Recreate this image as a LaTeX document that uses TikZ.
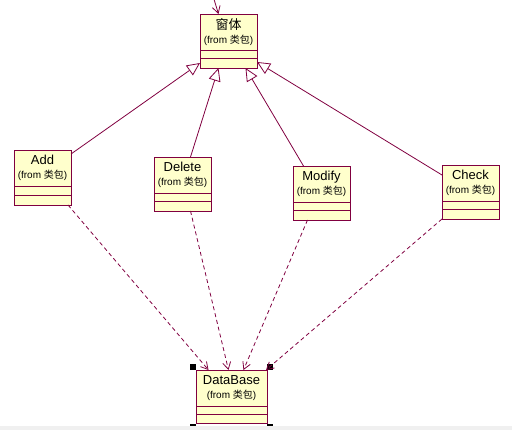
\documentclass[tikz,border=0pt]{standalone}
\usepackage{fontspec}
\setmainfont{Liberation Sans}
\newfontfamily\cjk{Noto Sans CJK SC}
\usetikzlibrary{arrows.meta,positioning}
\definecolor{umlline}{RGB}{128,0,64}
\definecolor{umlfill}{RGB}{255,255,204}
\newcommand{\pkgnote}{{\fontsize{10}{11}\selectfont(from {\cjk 类包})}}
\tikzset{classname/.style={draw=umlline,fill=umlfill,line width=0.9pt,anchor=north west,
  align=center,minimum width=57pt,minimum height=36pt,inner sep=1pt,outer sep=0pt,
  font=\fontsize{13}{14}\selectfont},
  classpart/.style={draw=umlline,fill=umlfill,line width=0.9pt,minimum width=57pt,
  minimum height=#1,inner sep=0pt,outer sep=0pt},
  gen/.style={draw=umlline,line width=0.8pt,-{Triangle[open,length=13pt,width=12pt,fill=white]}},
  dep/.style={draw=umlline,line width=0.8pt,dash pattern=on 4pt off 3pt,
  -{Straight Barb[length=7pt,width=8pt]}},
  handle/.style={fill=black,minimum size=6pt,inner sep=0pt}}

\begin{document}
\begin{tikzpicture}[x=1pt,y=-1pt]
\useasboundingbox (0,0) rectangle (512,430);
% classes
\node[classname] (win) at (200,14) {{\cjk 窗体}\\\pkgnote};
\node[classpart=8pt,below=0pt of win] (winattr) {};
\node[classpart=10pt,below=0pt of winattr] (winops) {};
\node[classname] (add) at (14,150) {Add\\\pkgnote};
\node[classpart=9pt,below=0pt of add] (addattr) {};
\node[classpart=10pt,below=0pt of addattr] (addops) {};
\node[classname] (delete) at (154,157) {Delete\\\pkgnote};
\node[classpart=8pt,below=0pt of delete] (deleteattr) {};
\node[classpart=10pt,below=0pt of deleteattr] (deleteops) {};
\node[classname] (modify) at (293,166) {Modify\\\pkgnote};
\node[classpart=8pt,below=0pt of modify] (modifyattr) {};
\node[classpart=10pt,below=0pt of modifyattr] (modifyops) {};
\node[classname] (check) at (442,165) {Check\\\pkgnote};
\node[classpart=8pt,below=0pt of check] (checkattr) {};
\node[classpart=10pt,below=0pt of checkattr] (checkops) {};
\node[classname,minimum width=71pt] (db) at (196,370) {DataBase\\\pkgnote};
\node[classpart=8pt,minimum width=71pt,below=0pt of db] (dbattr) {};
\node[classpart=9pt,minimum width=71pt,below=0pt of dbattr] (dbops) {};
% selection handles
\node[handle] (h1) at (193,367) {};
\node[handle] (h2) at (270,367) {};
\node[handle] (h3) at (193,427) {};
\node[handle] (h4) at (270,427) {};
\fill[gray!12] (0,426.5) rectangle (512,430);
% generalizations
\coordinate (up) at (213,-4);
\draw[dep,dash pattern=] (up) -- ([xshift=-10pt]win.north);
\draw[gen] ([yshift=-4pt]add.north east) -- (winops.west);
\draw[gen] ([xshift=8pt]delete.north) -- ([xshift=-10pt]winops.south);
\draw[gen] ([xshift=-18pt]modify.north) -- ([xshift=17pt]winops.south);
\draw[gen] ([yshift=8pt]check.west) -- ([yshift=1pt]winops.east);
% dependencies
\draw[dep] ([xshift=-3pt]addops.south east) -- ([xshift=-23pt]db.north);
\draw[dep] ([xshift=8pt]deleteops.south) -- ([xshift=-3pt]db.north);
\draw[dep] ([xshift=-14pt]modifyops.south) -- ([xshift=12pt]db.north);
\draw[dep] (checkops.south west) -- ([xshift=-1pt]db.north east);
\end{tikzpicture}
\end{document}
